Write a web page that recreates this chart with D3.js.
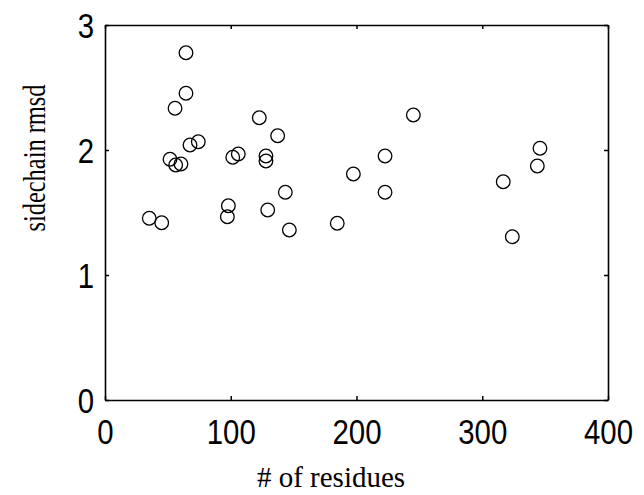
<!DOCTYPE html>
<html>
<head>
<meta charset="utf-8">
<script src="https://cdn.jsdelivr.net/npm/d3@7"></script>
<style>
  html, body { margin: 0; padding: 0; background: #fff; }
  svg { display: block; }
</style>
</head>
<body>
<svg id="chart" width="644" height="495"></svg>
<script>
// Data
const residues = [35.2, 45.1, 51.7, 55.7, 56.2, 60.4, 64.4, 64.4, 67.6, 74.2,
                  97.3, 98.1, 101.6, 106, 122.7, 128, 128, 129.4, 137.3, 143.4,
                  146.6, 184.7, 197.5, 222.7, 222.7, 245.2, 316.7, 323.9, 343.8, 345.9];
const rmsd = [1.454, 1.418, 1.926, 2.334, 1.88, 1.888, 2.778, 2.454, 2.04, 2.066,
              1.466, 1.554, 1.942, 1.968, 2.258, 1.952, 1.912, 1.52, 2.114, 1.662,
              1.36, 1.414, 1.808, 1.952, 1.662, 2.28, 1.746, 1.306, 1.872, 2.014];
const xTicks = [0, 100, 200, 300, 400];
const yTicks = [0, 1, 2, 3];
const xLabel = "# of residues";
const yLabel = "sidechain rmsd";

const svg = d3.select("#chart");
const m = {left: 105, right: 36, top: 25, bottom: 95};
const W = 644, H = 495;
const x = d3.scaleLinear().domain([0, 400]).range([m.left, W - m.right]);
const y = d3.scaleLinear().domain([0, 3]).range([H - m.bottom, m.top]);

const tickFont = "'Liberation Sans', Arial, sans-serif";
const serif = "'Liberation Serif', 'Times New Roman', serif";
const fmt = d3.format("d");

// Axes with inward ticks
const gx = svg.append("g").attr("transform", `translate(0,${y(0)})`)
  .call(d3.axisBottom(x).tickValues(xTicks).tickFormat(fmt).tickSizeInner(-4).tickSizeOuter(0).tickPadding(19));
const gxt = svg.append("g").attr("transform", `translate(0,${y(3)})`)
  .call(d3.axisTop(x).tickValues(xTicks).tickSizeInner(-4).tickSizeOuter(0).tickFormat(""));
const gy = svg.append("g").attr("transform", `translate(${x(0)},0)`)
  .call(d3.axisLeft(y).tickValues(yTicks).tickFormat(fmt).tickSizeInner(-4).tickSizeOuter(0).tickPadding(11));
const gyr = svg.append("g").attr("transform", `translate(${x(400)},0)`)
  .call(d3.axisRight(y).tickValues(yTicks).tickSizeInner(-4).tickSizeOuter(0).tickFormat(""));

[gx, gxt, gy, gyr].forEach(g => {
  g.select(".domain").attr("stroke", "#000").attr("stroke-width", 1.6);
  g.selectAll(".tick line").attr("stroke", "#000").attr("stroke-width", 1.5);
  g.selectAll("text").attr("fill", "#000").style("font-family", tickFont).style("font-size", "35px");
});
gx.selectAll(".tick text").attr("transform", "scale(0.84,1)");
gy.selectAll(".tick text").attr("dy", "0.36em").attr("x", -11 / 0.84).attr("transform", "scale(0.84,1)");

// Points
svg.append("g").selectAll("circle")
  .data(residues.map((r, i) => [r, rmsd[i]]))
  .join("circle")
  .attr("cx", d => x(d[0]))
  .attr("cy", d => y(d[1]))
  .attr("r", 6.8)
  .attr("fill", "none")
  .attr("stroke", "#000")
  .attr("stroke-width", 1.3);

// Axis labels
svg.append("text")
  .attr("x", 331).attr("y", 487)
  .attr("text-anchor", "middle")
  .style("font-family", serif).style("font-size", "29px")
  .text(xLabel);

svg.append("text")
  .attr("transform", `translate(45,${158}) rotate(-90)`)
  .attr("text-anchor", "middle")
  .attr("textLength", 147)
  .attr("lengthAdjust", "spacingAndGlyphs")
  .style("font-family", serif).style("font-size", "31px")
  .text(yLabel);
</script>
</body>
</html>
